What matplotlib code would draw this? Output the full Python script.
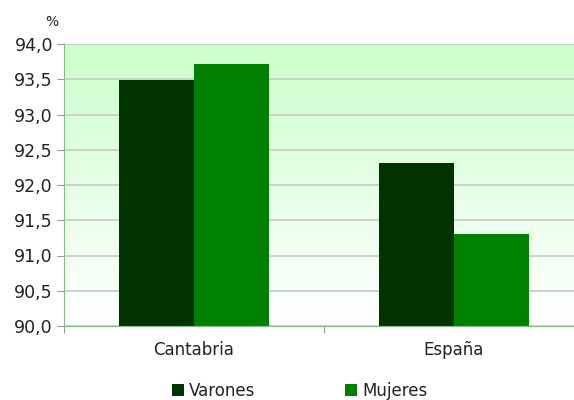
import numpy as np
import matplotlib.pyplot as plt
from matplotlib.colors import LinearSegmentedColormap

categories = ["Cantabria", "España"]
varones = [93.49, 92.31]
mujeres = [93.72, 91.30]
yticks = [90.0, 90.5, 91.0, 91.5, 92.0, 92.5, 93.0, 93.5, 94.0]

plt.rcParams['font.family'] = ['DejaVu Sans']

fig = plt.figure(figsize=(5.74, 4.0), dpi=100)
ax = fig.add_axes([64 / 574, 74 / 400, 520 / 574, 282 / 400])

# background gradient light green -> white
cmap = LinearSegmentedColormap.from_list("bg", ["#ffffff", "#ccffcc"])
grad = np.linspace(0, 1, 256).reshape(-1, 1)
ax.imshow(grad, aspect='auto', cmap=cmap, origin='lower',
          extent=[-0.5, 1.5, 90, 94], zorder=0)

x = np.arange(len(categories))
w = 0.288
ax.bar(x - w / 2, np.array(varones) - 90, w, bottom=90, color="#003300",
       label="Varones", zorder=3)
ax.bar(x + w / 2, np.array(mujeres) - 90, w, bottom=90, color="#008000",
       label="Mujeres", zorder=3)

ax.set_xlim(-0.5, 1.5)
ax.set_ylim(90, 94)
ax.set_yticks(yticks)
ax.set_yticklabels([f"{v:.1f}".replace(".", ",") for v in yticks], fontsize=12.5,
                   color="#222222")
ax.yaxis.grid(True, color="#c8c8c8", linewidth=1.2, zorder=1)
ax.set_axisbelow(True)

ax.set_xticks([-0.5, 0.5, 1.5])
ax.set_xticklabels([])
ax.set_xticks(x, minor=True)
ax.set_xticklabels(categories, minor=True, fontsize=12, color="#222222")
ax.tick_params(axis='x', which='minor', length=0, pad=11)
ax.tick_params(axis='x', which='major', length=5, color="#999999")
ax.tick_params(axis='y', length=5, color="#999999", pad=3)

for s in ["top", "right"]:
    ax.spines[s].set_visible(False)
ax.spines["left"].set_color("#80c080")
ax.spines["bottom"].set_color("#80c080")
ax.spines["left"].set_zorder(4)
ax.spines["bottom"].set_zorder(4)

fig.text(52 / 574, 1 - 22 / 400, "%", fontsize=10, ha='center', va='center',
         color="#222222")

leg = fig.legend(loc='center', bbox_to_anchor=(0.522, 1 - 391 / 400), ncol=2,
                 frameon=False, fontsize=12, handlelength=0.75, handleheight=0.75,
                 handletextpad=0.3, columnspacing=5.35)
for t in leg.get_texts():
    t.set_color("#222222")

fig.savefig("out.png", dpi=100)
